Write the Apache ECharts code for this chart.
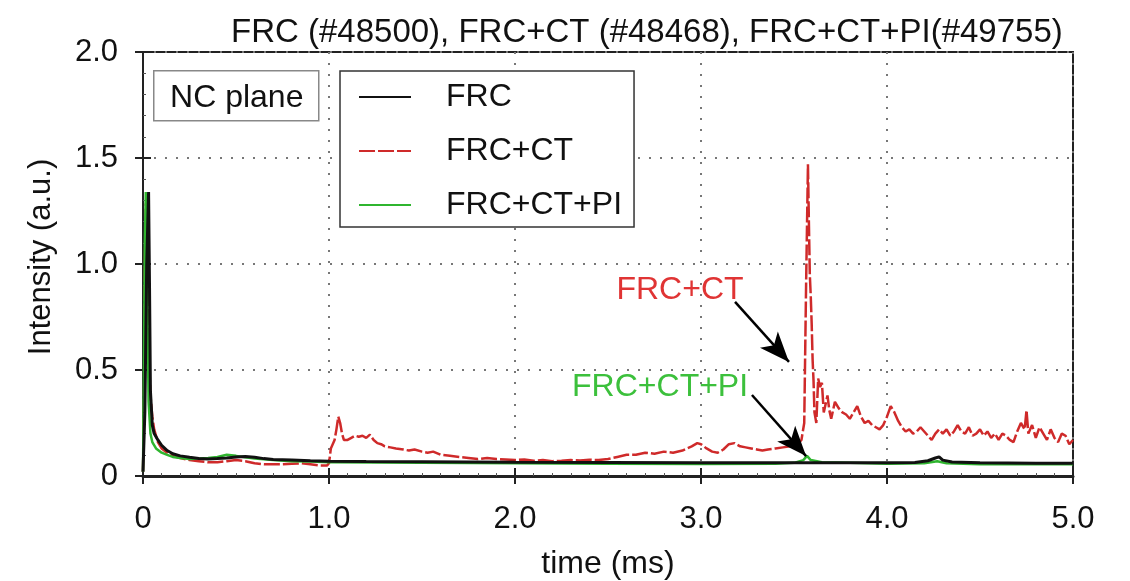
<!DOCTYPE html>
<html>
<head>
<meta charset="utf-8">
<script src="https://cdn.jsdelivr.net/npm/echarts@6/dist/echarts.min.js"></script>
<style>html,body{margin:0;padding:0;background:#fff}#c{width:1130px;height:581px}</style>
</head>
<body>
<div id="c"></div>
<script>
const titleText = 'FRC (#48500), FRC+CT (#48468), FRC+CT+PI(#49755)';
const seriesNames = ['FRC', 'FRC+CT', 'FRC+CT+PI'];
const xTicks = [0, 1, 2, 3, 4, 5];
const yTicks = [0, 0.5, 1.0, 1.5, 2.0];

const frc = [[0,0.02],[0.01,0.3],[0.02,1.0],[0.03,1.34],[0.035,0.9],[0.04,0.4],[0.05,0.24],[0.06,0.2],[0.08,0.17],[0.1,0.145],[0.13,0.12],[0.16,0.105],[0.2,0.095],[0.25,0.088],[0.3,0.083],[0.35,0.08],[0.4,0.082],[0.45,0.085],[0.5,0.09],[0.55,0.092],[0.6,0.088],[0.65,0.082],[0.7,0.078],[0.8,0.075],[0.9,0.072],[1.0,0.07],[1.2,0.068],[1.5,0.067],[2.0,0.065],[2.5,0.064],[3.0,0.063],[3.5,0.062],[3.8,0.062],[4.0,0.062],[4.15,0.064],[4.22,0.072],[4.26,0.085],[4.28,0.09],[4.3,0.075],[4.35,0.066],[4.5,0.063],[4.8,0.06],[5.0,0.06]];

const frcCt = [[0,0.02],[0.005,0.3],[0.01,1.0],[0.015,1.28],[0.02,1.3],[0.025,1.1],[0.03,0.7],[0.035,0.5],[0.04,0.38],[0.05,0.28],[0.06,0.22],[0.08,0.16],[0.1,0.13],[0.13,0.11],[0.16,0.095],[0.2,0.085],[0.25,0.075],[0.3,0.07],[0.35,0.065],[0.4,0.065],[0.45,0.07],[0.5,0.075],[0.55,0.07],[0.6,0.06],[0.65,0.055],[0.7,0.055],[0.75,0.055],[0.8,0.058],[0.85,0.06],[0.9,0.055],[0.95,0.05],[0.99,0.05],
[1.0,0.06],[1.01,0.13],[1.02,0.15],[1.03,0.17],[1.04,0.22],[1.05,0.28],[1.06,0.25],[1.07,0.2],[1.08,0.17],[1.1,0.17],[1.12,0.18],[1.14,0.19],[1.16,0.185],[1.18,0.19],[1.2,0.18],[1.22,0.195],[1.24,0.17],[1.26,0.155],[1.28,0.15],[1.3,0.14],[1.33,0.135],[1.36,0.13],[1.4,0.125],[1.43,0.12],[1.46,0.125],[1.5,0.115],[1.53,0.11],[1.56,0.115],[1.6,0.1],[1.65,0.095],[1.7,0.09],[1.75,0.085],[1.8,0.08],[1.85,0.085],[1.9,0.08],[1.95,0.078],[2.0,0.075],[2.05,0.078],[2.1,0.072],[2.15,0.075],[2.2,0.07],[2.25,0.072],[2.3,0.075],[2.35,0.073],[2.4,0.077],[2.45,0.075],[2.5,0.08],[2.55,0.09],[2.6,0.1],[2.65,0.1],[2.7,0.11],[2.75,0.105],[2.8,0.115],[2.85,0.11],[2.9,0.12],[2.95,0.14],[2.98,0.155],[3.0,0.15],[3.03,0.13],[3.06,0.115],[3.09,0.11],[3.12,0.125],[3.15,0.15],[3.18,0.155],[3.21,0.14],[3.24,0.135],[3.27,0.13],[3.3,0.125],[3.33,0.12],[3.36,0.125],[3.4,0.13],[3.44,0.135],[3.48,0.14],[3.52,0.15],[3.54,0.17],
[3.555,0.25],[3.565,0.9],[3.575,1.47],[3.58,1.2],[3.585,0.95],[3.59,0.85],[3.595,0.72],[3.6,0.55],[3.605,0.45],[3.61,0.3],[3.62,0.25],[3.63,0.46],[3.64,0.42],[3.65,0.44],[3.66,0.3],[3.67,0.34],[3.68,0.38],[3.69,0.31],[3.7,0.27],[3.72,0.35],[3.74,0.32],[3.76,0.3],[3.78,0.29],[3.8,0.27],[3.82,0.3],[3.84,0.33],[3.86,0.28],[3.88,0.25],[3.9,0.26],[3.92,0.24],[3.94,0.23],[3.96,0.22],[3.98,0.24],[4.0,0.28],[4.02,0.33],[4.04,0.3],[4.06,0.26],[4.08,0.23],[4.1,0.21],[4.12,0.22],[4.14,0.2],[4.16,0.21],[4.18,0.23],[4.2,0.21],[4.22,0.19],[4.24,0.17],[4.26,0.2],[4.28,0.22],[4.3,0.2],[4.32,0.22],[4.34,0.19],[4.36,0.21],[4.38,0.24],[4.4,0.21],[4.42,0.2],[4.44,0.23],[4.46,0.19],[4.48,0.2],[4.5,0.22],[4.52,0.19],[4.54,0.21],[4.56,0.18],[4.58,0.2],[4.6,0.17],[4.62,0.2],[4.64,0.19],[4.66,0.17],[4.68,0.16],[4.7,0.21],[4.72,0.25],[4.74,0.22],[4.75,0.31],[4.76,0.2],[4.78,0.24],[4.8,0.18],[4.82,0.23],[4.84,0.2],[4.86,0.17],[4.88,0.22],[4.9,0.18],[4.92,0.16],[4.94,0.2],[4.96,0.19],[4.98,0.15],[5.0,0.17]];

const frcCtPi = [[0,0.02],[0.005,0.5],[0.01,1.1],[0.015,1.34],[0.02,1.2],[0.025,0.7],[0.03,0.35],[0.04,0.2],[0.05,0.16],[0.07,0.13],[0.1,0.11],[0.13,0.1],[0.16,0.09],[0.2,0.085],[0.25,0.08],[0.3,0.082],[0.35,0.085],[0.4,0.09],[0.45,0.1],[0.5,0.095],[0.55,0.088],[0.6,0.082],[0.7,0.075],[0.8,0.07],[0.9,0.068],[1.0,0.065],[1.5,0.062],[2.0,0.06],[2.5,0.058],[3.0,0.057],[3.4,0.058],[3.5,0.062],[3.55,0.075],[3.57,0.095],[3.59,0.075],[3.65,0.065],[3.8,0.062],[4.0,0.058],[4.2,0.06],[4.27,0.07],[4.32,0.06],[4.5,0.055],[4.8,0.055],[5.0,0.056]];

// annotations (data coordinates)
const ctLabelPos = [2.887, 0.892];
const ctArrow = [[3.183, 0.821], [3.473, 0.538]];
const piLabelPos = [2.78, 0.439];
const piArrow = [[3.274, 0.382], [3.565, 0.094]];

const FONT = 'Liberation Sans, Arial, sans-serif';
const RED = '#cf2a2a', GREEN = '#2fb52f', BLACK = '#111';
const fmt = v => v === 0 ? '0' : v.toFixed(1);
const gridLine = {show: true, lineStyle: {color: '#777', type: [2, 9], width: 2}};

const chart = echarts.init(document.getElementById('c'), null, {renderer: 'canvas'});
chart.setOption({
  animation: false,
  backgroundColor: '#fff',
  title: {text: titleText, left: 226, top: 11, textStyle: {fontFamily: FONT, fontSize: 33, fontWeight: 'normal', color: '#111'}},
  grid: {left: 143, right: 57, top: 52, bottom: 105, show: true, borderColor: '#222', borderWidth: 2, backgroundColor: 'transparent', containLabel: false, outerBoundsMode: 'none'},
  legend: {
    data: seriesNames, orient: 'vertical', left: 340, top: 71,
    icon: 'inherit',
    itemWidth: 52, itemHeight: 14, itemGap: 18,
    itemStyle: {opacity: 0},
    padding: [8, 12, 4, 18],
    borderColor: '#333', borderWidth: 1.5, backgroundColor: '#fff',
    textStyle: {fontFamily: FONT, fontSize: 32, color: '#111', lineHeight: 36, padding: [0, 0, 0, 30]}
  },
  xAxis: [{
    type: 'value', min: 0, max: 5, interval: 1,
    name: 'time (ms)', nameLocation: 'middle', nameGap: 72,
    nameTextStyle: {fontFamily: FONT, fontSize: 32, color: '#111'},
    axisLine: {show: true, lineStyle: {color: '#222', width: 3}},
    axisTick: {show: true, inside: true, length: 8, lineStyle: {color: '#222', width: 2}},
    minorTick: {show: true, splitNumber: 10, length: 3, lineStyle: {color: '#555'}},
    axisLabel: {formatter: fmt, fontFamily: FONT, fontSize: 31, color: '#111', margin: 28},
    splitLine: gridLine
  }, {
    type: 'value', min: 0, max: 5, interval: 1, position: 'top',
    axisLine: {show: false}, axisLabel: {show: false}, splitLine: {show: false},
    axisTick: {show: true, inside: true, length: 8, lineStyle: {color: '#222', width: 2}}
  }],
  yAxis: [{
    type: 'value', min: 0, max: 2, interval: 0.5,
    name: 'Intensity (a.u.)', nameLocation: 'middle', nameGap: 86,
    nameTextStyle: {fontFamily: FONT, fontSize: 31, color: '#111', padding: [0, 0, 0, 14]},
    axisLine: {show: true, lineStyle: {color: '#222', width: 2}},
    axisTick: {show: true, inside: true, length: 8, lineStyle: {color: '#222', width: 2}},
    minorTick: {show: true, splitNumber: 5, length: 3, lineStyle: {color: '#555'}},
    axisLabel: {formatter: fmt, fontFamily: FONT, fontSize: 31, color: '#111', margin: 25},
    splitLine: gridLine
  }, {
    type: 'value', min: 0, max: 2, interval: 0.5, position: 'right',
    axisLine: {show: false}, axisLabel: {show: false}, splitLine: {show: false},
    axisTick: {show: true, inside: true, length: 8, lineStyle: {color: '#222', width: 2}}
  }],
  graphic: [{
    type: 'group', left: 153, top: 70, z: 100,
    children: [
      {type: 'rect', shape: {x: 0, y: 0, width: 165, height: 50}, style: {fill: '#fff', stroke: '#888', lineWidth: 1.5}},
      {type: 'text', x: 83, y: 27, style: {text: 'NC plane', font: '32px ' + FONT, fill: '#111', align: 'center', verticalAlign: 'middle'}}
    ]
  }],
  series: [{
    name: 'FRC+CT', type: 'line', data: frcCt, symbol: 'none', z: 3,
    lineStyle: {color: RED, width: 2.5, type: [16, 3]}, itemStyle: {color: RED},
    markPoint: {symbol: 'circle', symbolSize: 0, silent: true,
      label: {show: true, position: 'inside', formatter: 'FRC+CT', fontFamily: FONT, fontSize: 32, color: '#e03434', offset: [0, 3]},
      data: [{coord: ctLabelPos}]}
  }, {
    name: 'FRC+CT+PI', type: 'line', data: frcCtPi, symbol: 'none', z: 4,
    lineStyle: {color: GREEN, width: 2.5}, itemStyle: {color: GREEN},
    markPoint: {symbol: 'circle', symbolSize: 0, silent: true,
      label: {show: true, position: 'inside', formatter: 'FRC+CT+PI', fontFamily: FONT, fontSize: 32, color: '#3cc03c', offset: [0, 4]},
      data: [{coord: piLabelPos}]}
  }, {
    name: 'FRC', type: 'line', data: frc, symbol: 'none', z: 5,
    lineStyle: {color: BLACK, width: 3}, itemStyle: {color: BLACK},
    markLine: {silent: true, symbol: ['none', 'arrow'], symbolSize: [18, 30],
      lineStyle: {color: '#000', width: 2.5, type: 'solid'}, label: {show: false},
      data: [[{coord: ctArrow[0]}, {coord: ctArrow[1]}], [{coord: piArrow[0]}, {coord: piArrow[1]}]]}
  }]
});
</script>
</body>
</html>
